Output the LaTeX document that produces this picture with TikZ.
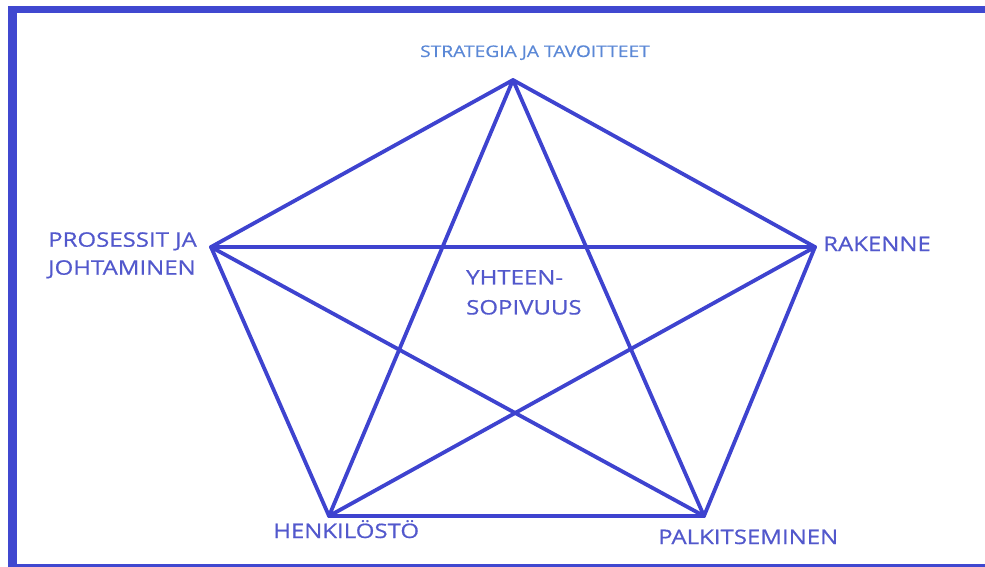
\documentclass[tikz,border=0pt]{standalone}
\usepackage{fontspec}
\usepackage{xcolor}
\usepackage{tikz}
\newfontfamily\lblfont[FakeStretch=1.2,FakeBold=0.6]{Open Sans}
\definecolor{framecol}{HTML}{4048D0}
\definecolor{linecol}{HTML}{3E43CF}
\definecolor{lblcol}{HTML}{5258CC}
\definecolor{topcol}{HTML}{5B88D6}
\tikzset{
  lbl/.style={text=lblcol,inner sep=0pt,font=\lblfont\fontsize{20}{28}\selectfont},
  link/.style={draw=linecol,line width=3.8pt,line cap=round}
}

\begin{document}
\begin{tikzpicture}[x=1pt,y=-1pt]
  \useasboundingbox (0,0) rectangle (985,567);
  % frame
  \fill[framecol] (8,6) rectangle (985,13);
  \fill[framecol] (8,6) rectangle (17,567);
  \fill[framecol] (8,564) rectangle (985,567);
  % corners of the pentagon
  \coordinate (st) at (513,80);
  \coordinate (pj) at (211,247);
  \coordinate (ra) at (815,247);
  \coordinate (he) at (329,516);
  \coordinate (pa) at (704,516);
  \foreach \a/\b in {st/pj,st/ra,pj/he,ra/pa,he/pa,st/he,st/pa,pj/ra,pj/pa,ra/he} {
    \draw[link] (\a) -- (\b);
  }
  % labels
  \node[lbl,text=topcol,font=\lblfont\fontsize{16}{20}\selectfont,anchor=base] (stl) at (535,57) {STRATEGIA JA TAVOITTEET};
  \node[lbl,align=left,anchor=north west] (pjl) at (48,232) {PROSESSIT JA\\JOHTAMINEN};
  \node[lbl,anchor=base west] (ral) at (823,251) {RAKENNE};
  \node[lbl,anchor=base west] (hel) at (273,538) {HENKILÖSTÖ};
  \node[lbl,anchor=base west] (pal) at (658,544) {PALKITSEMINEN};
  \node[lbl,align=left,anchor=north west,font=\lblfont\fontsize{20}{30}\selectfont] (yhl) at (466,270) {YHTEEN-\\SOPIVUUS};
\end{tikzpicture}
\end{document}
